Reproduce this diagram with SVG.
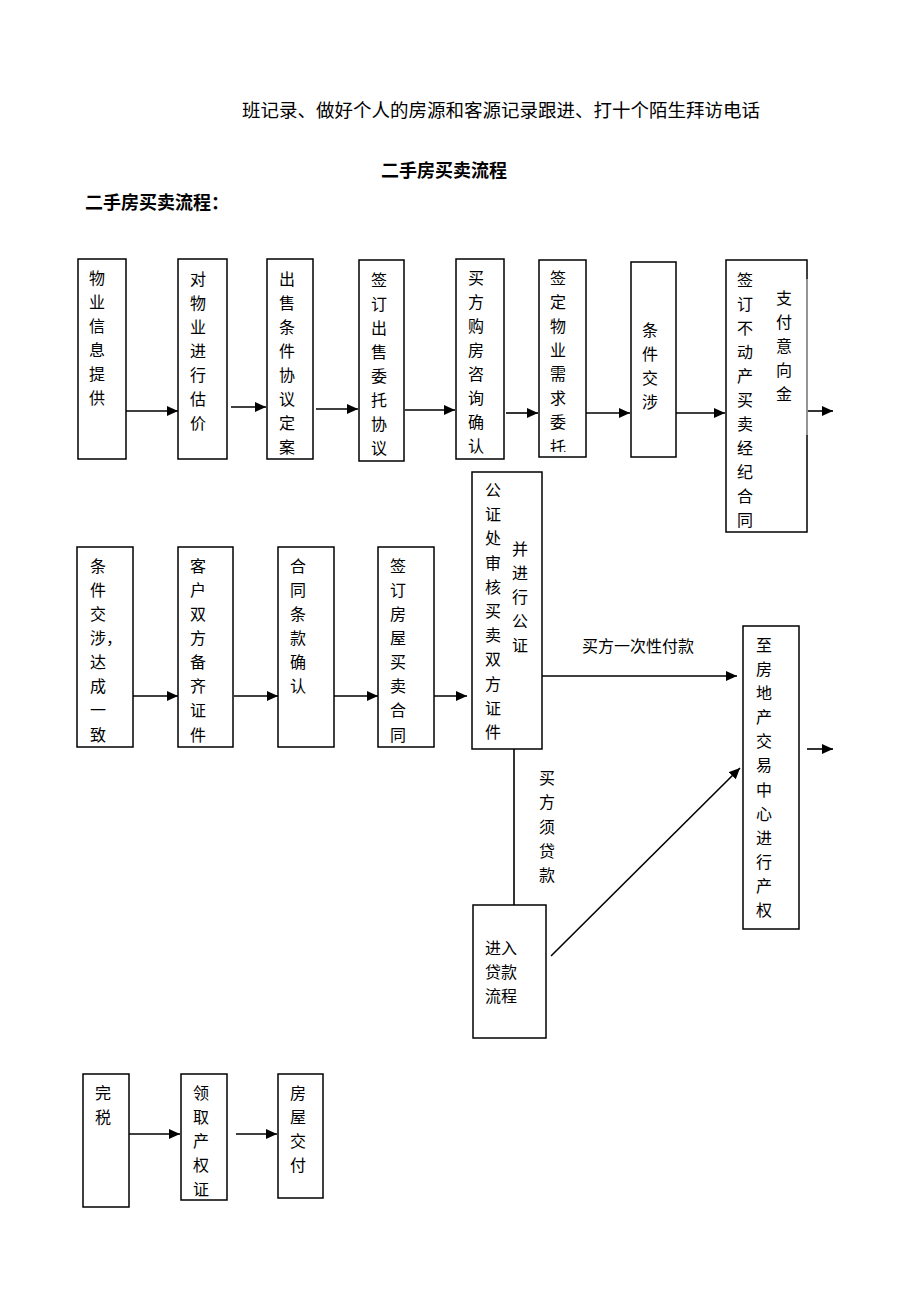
<svg xmlns="http://www.w3.org/2000/svg" width="920" height="1302" viewBox="0 0 920 1302">
<style>
.bg{fill:#fff}
.box{fill:#fff;stroke:#000;stroke-width:1.5}
.t{font-family:"Liberation Serif","Noto Sans CJK SC",serif;font-size:16px;fill:#000;text-anchor:middle;dominant-baseline:central}
.ts{font-family:"Liberation Serif","Noto Sans CJK SC",serif;font-size:16px;fill:#000;text-anchor:start;dominant-baseline:central}
.h{font-family:"Liberation Serif","Noto Sans CJK SC",serif;font-size:18.5px;fill:#000;dominant-baseline:central}
.b{font-family:"Liberation Sans","Noto Sans CJK SC",sans-serif;font-size:18px;font-weight:bold;fill:#000;dominant-baseline:central}
.ln{stroke:#000;stroke-width:1.6;fill:none}
.arr{stroke:#000;stroke-width:1.6;fill:none;marker-end:url(#ah)}
</style>
<defs>
<marker id="ah" markerUnits="userSpaceOnUse" markerWidth="12" markerHeight="10" refX="11" refY="5" orient="auto">
<path d="M0,0 L11,5 L0,10 Z" fill="#000"/>
</marker>
<clipPath id="c6"><rect x="539" y="260" width="47" height="192"/></clipPath>
<clipPath id="c12"><rect x="181" y="1074" width="46" height="125"/></clipPath>
</defs>
<rect class="bg" x="0" y="0" width="920" height="1302"/>

<g id="header">
<text class="h" x="242" y="111">班记录、做好个人的房源和客源记录跟进、打十个陌生拜访电话</text>
<text class="b" x="444" y="171" text-anchor="middle">二手房买卖流程</text>
<text class="b" x="85" y="203">二手房买卖流程：</text>
</g>

<g id="connectors">
<line class="arr" x1="126" y1="411" x2="178" y2="411"/>
<line class="arr" x1="231" y1="407" x2="266" y2="407"/>
<line class="arr" x1="316" y1="409" x2="358" y2="409"/>
<line class="arr" x1="405" y1="410" x2="455" y2="410"/>
<line class="arr" x1="506" y1="413" x2="538" y2="413"/>
<line class="arr" x1="586" y1="413" x2="630" y2="413"/>
<line class="arr" x1="676" y1="413" x2="725" y2="413"/>
<line class="arr" x1="807" y1="411" x2="833" y2="411"/>

<line class="arr" x1="133" y1="696" x2="178" y2="696"/>
<line class="arr" x1="234" y1="696" x2="278" y2="696"/>
<line class="arr" x1="334" y1="696" x2="378" y2="696"/>
<line class="arr" x1="434" y1="696" x2="467" y2="696"/>
<line class="arr" x1="542" y1="676" x2="737" y2="676"/>
<text class="t" x="638" y="646">买方一次性付款</text>
<line class="arr" x1="807" y1="749" x2="833" y2="749"/>
<line class="ln" x1="514" y1="749" x2="514" y2="905"/>
<text class="t" x="547" y="778"><tspan x="547" y="778">买</tspan><tspan x="547" y="802">方</tspan><tspan x="547" y="827">须</tspan><tspan x="547" y="851">贷</tspan><tspan x="547" y="875">款</tspan></text>
<line class="arr" x1="551" y1="956" x2="740" y2="768"/>

<line class="arr" x1="125" y1="1134" x2="180" y2="1134"/>
<line class="arr" x1="236" y1="1134" x2="277" y2="1134"/>
</g>

<g id="n1">
<rect class="box" x="78" y="259" width="48" height="200"/>
<text class="t"><tspan x="97" y="278">物</tspan><tspan x="97" y="302">业</tspan><tspan x="97" y="326">信</tspan><tspan x="97" y="350">息</tspan><tspan x="97" y="374">提</tspan><tspan x="97" y="398">供</tspan></text>
</g>
<g id="n2">
<rect class="box" x="178" y="259" width="49" height="200"/>
<text class="t"><tspan x="198" y="279">对</tspan><tspan x="198" y="303">物</tspan><tspan x="198" y="327">业</tspan><tspan x="198" y="351">进</tspan><tspan x="198" y="375">行</tspan><tspan x="198" y="399">估</tspan><tspan x="198" y="423">价</tspan></text>
</g>
<g id="n3">
<rect class="box" x="267" y="259" width="46" height="200"/>
<text class="t"><tspan x="287" y="279">出</tspan><tspan x="287" y="303">售</tspan><tspan x="287" y="327">条</tspan><tspan x="287" y="351">件</tspan><tspan x="287" y="375">协</tspan><tspan x="287" y="399">议</tspan><tspan x="287" y="423">定</tspan><tspan x="287" y="447">案</tspan></text>
</g>
<g id="n4">
<rect class="box" x="359" y="260" width="45" height="201"/>
<text class="t"><tspan x="379" y="280">签</tspan><tspan x="379" y="304">订</tspan><tspan x="379" y="328">出</tspan><tspan x="379" y="352">售</tspan><tspan x="379" y="376">委</tspan><tspan x="379" y="400">托</tspan><tspan x="379" y="424">协</tspan><tspan x="379" y="448">议</tspan></text>
</g>
<g id="n5">
<rect class="box" x="456" y="259" width="48" height="200"/>
<text class="t"><tspan x="476" y="278">买</tspan><tspan x="476" y="302">方</tspan><tspan x="476" y="326">购</tspan><tspan x="476" y="350">房</tspan><tspan x="476" y="374">咨</tspan><tspan x="476" y="398">询</tspan><tspan x="476" y="422">确</tspan><tspan x="476" y="446">认</tspan></text>
</g>
<g id="n6">
<rect class="box" x="539" y="260" width="47" height="197"/>
<text class="t" clip-path="url(#c6)"><tspan x="558" y="278">签</tspan><tspan x="558" y="302">定</tspan><tspan x="558" y="326">物</tspan><tspan x="558" y="350">业</tspan><tspan x="558" y="374">需</tspan><tspan x="558" y="398">求</tspan><tspan x="558" y="422">委</tspan><tspan x="558" y="447">托</tspan></text>
</g>
<g id="n7">
<rect class="box" x="631" y="262" width="45" height="195"/>
<text class="t"><tspan x="650" y="330">条</tspan><tspan x="650" y="354">件</tspan><tspan x="650" y="378">交</tspan><tspan x="650" y="402">涉</tspan></text>
</g>
<g id="n8">
<rect class="box" x="726" y="260" width="81" height="272"/>
<line x1="807" y1="279" x2="807" y2="435" stroke="#aaa" stroke-width="1.6"/>
<text class="t"><tspan x="745" y="280">签</tspan><tspan x="745" y="304">订</tspan><tspan x="745" y="328">不</tspan><tspan x="745" y="352">动</tspan><tspan x="745" y="376">产</tspan><tspan x="745" y="400">买</tspan><tspan x="745" y="424">卖</tspan><tspan x="745" y="448">经</tspan><tspan x="745" y="472">纪</tspan><tspan x="745" y="496">合</tspan><tspan x="745" y="520">同</tspan></text>
<text class="t"><tspan x="784" y="298">支</tspan><tspan x="784" y="322">付</tspan><tspan x="784" y="346">意</tspan><tspan x="784" y="370">向</tspan><tspan x="784" y="394">金</tspan></text>
</g>

<g id="m1">
<rect class="box" x="77" y="547" width="56" height="200"/>
<text class="ts"><tspan x="90" y="566">条</tspan><tspan x="90" y="590">件</tspan><tspan x="90" y="614">交</tspan><tspan x="90" y="638">涉，</tspan><tspan x="90" y="662">达</tspan><tspan x="90" y="686">成</tspan><tspan x="90" y="710">一</tspan><tspan x="90" y="735">致</tspan></text>
</g>
<g id="m2">
<rect class="box" x="178" y="547" width="55" height="200"/>
<text class="t"><tspan x="198" y="566">客</tspan><tspan x="198" y="590">户</tspan><tspan x="198" y="614">双</tspan><tspan x="198" y="638">方</tspan><tspan x="198" y="662">备</tspan><tspan x="198" y="686">齐</tspan><tspan x="198" y="710">证</tspan><tspan x="198" y="735">件</tspan></text>
</g>
<g id="m3">
<rect class="box" x="278" y="547" width="56" height="200"/>
<text class="t"><tspan x="298" y="566">合</tspan><tspan x="298" y="590">同</tspan><tspan x="298" y="614">条</tspan><tspan x="298" y="638">款</tspan><tspan x="298" y="662">确</tspan><tspan x="298" y="686">认</tspan></text>
</g>
<g id="m4">
<rect class="box" x="378" y="547" width="56" height="200"/>
<text class="t"><tspan x="398" y="566">签</tspan><tspan x="398" y="590">订</tspan><tspan x="398" y="614">房</tspan><tspan x="398" y="638">屋</tspan><tspan x="398" y="662">买</tspan><tspan x="398" y="686">卖</tspan><tspan x="398" y="710">合</tspan><tspan x="398" y="735">同</tspan></text>
</g>
<g id="m5">
<rect class="box" x="472" y="472" width="70" height="277"/>
<text class="t"><tspan x="493" y="490">公</tspan><tspan x="493" y="514">证</tspan><tspan x="493" y="538">处</tspan><tspan x="493" y="563">审</tspan><tspan x="493" y="587">核</tspan><tspan x="493" y="611">买</tspan><tspan x="493" y="635">卖</tspan><tspan x="493" y="659">双</tspan><tspan x="493" y="684">方</tspan><tspan x="493" y="708">证</tspan><tspan x="493" y="732">件</tspan></text>
<text class="t"><tspan x="520" y="549">并</tspan><tspan x="520" y="573">进</tspan><tspan x="520" y="597">行</tspan><tspan x="520" y="621">公</tspan><tspan x="520" y="645">证</tspan></text>
</g>
<g id="p">
<rect class="box" x="743" y="626" width="56" height="303"/>
<text class="t"><tspan x="764" y="645">至</tspan><tspan x="764" y="669">房</tspan><tspan x="764" y="693">地</tspan><tspan x="764" y="717">产</tspan><tspan x="764" y="741">交</tspan><tspan x="764" y="765">易</tspan><tspan x="764" y="790">中</tspan><tspan x="764" y="814">心</tspan><tspan x="764" y="838">进</tspan><tspan x="764" y="862">行</tspan><tspan x="764" y="886">产</tspan><tspan x="764" y="910">权</tspan></text>
</g>
<g id="q">
<rect class="box" x="473" y="905" width="73" height="133"/>
<text class="ts"><tspan x="485" y="948">进入</tspan><tspan x="485" y="972">贷款</tspan><tspan x="485" y="996">流程</tspan></text>
</g>

<g id="r1">
<rect class="box" x="83" y="1074" width="46" height="133"/>
<text class="t"><tspan x="103" y="1093">完</tspan><tspan x="103" y="1117">税</tspan></text>
</g>
<g id="r2">
<rect class="box" x="181" y="1074" width="46" height="126"/>
<text class="t" clip-path="url(#c12)"><tspan x="201" y="1093">领</tspan><tspan x="201" y="1117">取</tspan><tspan x="201" y="1141">产</tspan><tspan x="201" y="1165">权</tspan><tspan x="201" y="1189">证</tspan></text>
</g>
<g id="r3">
<rect class="box" x="278" y="1074" width="45" height="124"/>
<text class="t"><tspan x="298" y="1093">房</tspan><tspan x="298" y="1117">屋</tspan><tspan x="298" y="1141">交</tspan><tspan x="298" y="1165">付</tspan></text>
</g>
</svg>
